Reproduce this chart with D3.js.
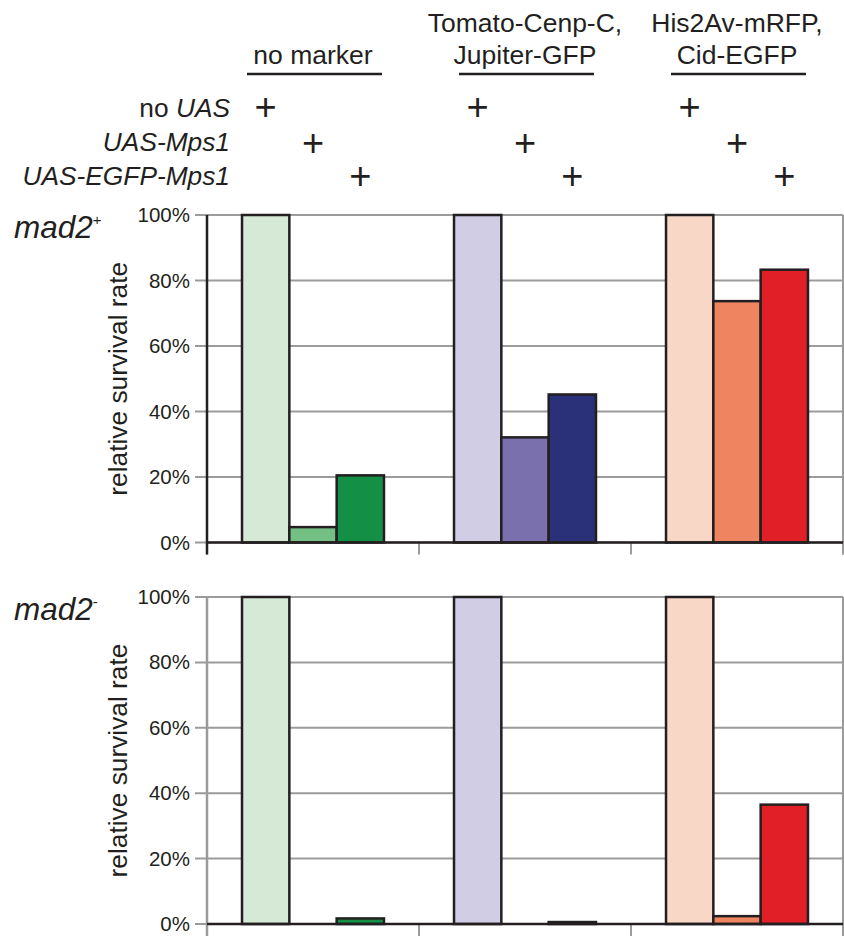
<!DOCTYPE html>
<html>
<head>
<meta charset="utf-8">
<script src="https://cdn.jsdelivr.net/npm/d3@7"></script>
<style>
  html, body { margin: 0; padding: 0; background: #fff; }
  svg { display: block; font-family: "Liberation Sans", Arial, sans-serif; }
</style>
</head>
<body>
<div id="chart"></div>
<script>
// marker lines (column groups)
const markerLines = [['no marker'], ['Tomato-Cenp-C,', 'Jupiter-GFP'], ['His2Av-mRFP,', 'Cid-EGFP']];
// transgene rows
const constructs = ['no UAS', 'UAS-Mps1', 'UAS-EGFP-Mps1'];
const tickValues = [0, 20, 40, 60, 80, 100];

// relative survival, % (per marker: no UAS, UAS-Mps1, UAS-EGFP-Mps1)
const mad2Plus = [[100, 4.7, 20.5], [100, 32.1, 45.2], [100, 73.7, 83.3]];
const mad2Minus = [[100, 0, 1.7], [100, 0, 0.6], [100, 2.4, 36.5]];

const barColors = [
  ['#d6e9d6', '#74bf83', '#138f46'],
  ['#d0cde4', '#7a70ae', '#2b3178'],
  ['#f8d7c7', '#ee8560', '#e11f26']
];

const width = 844, height = 936;
const plotLeft = 207, plotRight = 843;

const svg = d3.select('#chart')
  .append('svg')
  .attr('width', width)
  .attr('height', height);

svg.append('rect').attr('width', width).attr('height', height).attr('fill', '#fff');

// Group and bar scales
const x0 = d3.scaleBand()
  .domain(d3.range(markerLines.length))
  .range([plotLeft, plotRight]);

const x1 = d3.scaleBand()
  .domain(d3.range(constructs.length))
  .range([0, x0.bandwidth()])
  .paddingInner(0)
  .paddingOuter(0.74);

const barCenter = (g, i) => x0(g) + x1(i) + x1.bandwidth() / 2;

// Header: marker names with underline
markerLines.forEach((lines, g) => {
  const cx = x0(g) + x0.bandwidth() / 2;
  const t = svg.append('text')
    .attr('x', cx)
    .attr('text-anchor', 'middle')
    .attr('font-size', 26.5)
    .attr('fill', '#231f20');
  lines.forEach((line, k) => {
    t.append('tspan')
      .attr('x', cx)
      .attr('y', 64 - (lines.length - 1 - k) * 32)
      .text(line);
  });
  svg.append('line')
    .attr('x1', x0(g) + x1(0) + 5)
    .attr('x2', x0(g) + x1(2) + x1.bandwidth() - 2)
    .attr('y1', 74).attr('y2', 74)
    .attr('stroke', '#231f20')
    .attr('stroke-width', 2.5);
});

// Construct rows with + marks
const rowY = [117, 151, 185];
const plusY = [106.7, 142.7, 175.7];
constructs.forEach((name, i) => {
  const t = svg.append('text')
    .attr('x', 230)
    .attr('y', rowY[i])
    .attr('text-anchor', 'end')
    .attr('font-size', 26.3)
    .attr('fill', '#231f20');
  if (name.startsWith('no ')) {
    t.append('tspan').text('no ');
    t.append('tspan').attr('font-style', 'italic').text(name.slice(3));
  } else {
    t.attr('font-style', 'italic').text(name);
  }
  markerLines.forEach((_, g) => {
    svg.append('text')
      .attr('x', barCenter(g, i))
      .attr('y', plusY[i] + 12.8)
      .attr('text-anchor', 'middle')
      .attr('font-size', 38)
      .attr('fill', '#231f20')
      .text('+');
  });
});

function drawPanel(data, top, bottom, label, sup, axisColor) {
  const y = d3.scaleLinear().domain([0, 100]).range([bottom, top]);
  const g = svg.append('g');

  // gridlines
  g.selectAll('.grid')
    .data(tickValues)
    .join('line')
    .attr('x1', plotLeft - 12)
    .attr('x2', plotRight)
    .attr('y1', d => y(d)).attr('y2', d => y(d))
    .attr('stroke', '#9b9b9b')
    .attr('stroke-width', 2);

  // right border
  g.append('line')
    .attr('x1', plotRight).attr('x2', plotRight)
    .attr('y1', y(100)).attr('y2', y(0) + 12)
    .attr('stroke', '#9b9b9b').attr('stroke-width', 2);

  // x ticks
  g.selectAll('.xtick')
    .data(d3.range(markerLines.length + 1))
    .join('line')
    .attr('x1', d => plotLeft + d * x0.step())
    .attr('x2', d => plotLeft + d * x0.step())
    .attr('y1', y(0)).attr('y2', y(0) + 12)
    .attr('stroke', '#9b9b9b').attr('stroke-width', 2);

  // y axis labels
  const yAxis = d3.axisLeft(y)
    .tickValues(tickValues)
    .tickFormat(d => d + '%')
    .tickSize(0)
    .tickPadding(17);
  const ax = g.append('g')
    .attr('transform', `translate(${plotLeft},0)`)
    .call(yAxis);
  ax.select('.domain').remove();
  ax.selectAll('text')
    .attr('font-size', 20.5)
    .attr('fill', '#231f20')
    .attr('font-family', '"Liberation Sans", Arial, sans-serif');

  // bars
  data.forEach((vals, gi) => {
    g.selectAll(null)
      .data(vals.map((v, i) => ({ v, i })).filter(d => d.v > 0))
      .join('rect')
      .attr('x', d => x0(gi) + x1(d.i))
      .attr('width', x1.bandwidth())
      .attr('y', d => y(d.v))
      .attr('height', d => y(0) - y(d.v))
      .attr('fill', d => barColors[gi][d.i])
      .attr('stroke', '#231f20')
      .attr('stroke-width', 2.5);
  });

  // left axis and baseline
  g.append('line')
    .attr('x1', plotLeft).attr('x2', plotLeft)
    .attr('y1', y(100)).attr('y2', y(0) + 12)
    .attr('stroke', axisColor).attr('stroke-width', 2.5);
  g.append('line')
    .attr('x1', plotLeft).attr('x2', plotRight)
    .attr('y1', y(0)).attr('y2', y(0))
    .attr('stroke', '#231f20').attr('stroke-width', 2.5);

  // y title
  g.append('text')
    .attr('transform', `translate(127,${(top + bottom) / 2}) rotate(-90)`)
    .attr('text-anchor', 'middle')
    .attr('font-size', 26.3)
    .attr('fill', '#231f20')
    .text('relative survival rate');

  // genotype label
  const t = g.append('text')
    .attr('x', 14)
    .attr('y', top + 23)
    .attr('font-size', 31.5)
    .attr('font-style', 'italic')
    .attr('fill', '#231f20')
    .text(label);
  t.append('tspan')
    .attr('dy', -13)
    .attr('font-size', 15)
    .attr('font-style', 'normal')
    .text(sup);
}

drawPanel(mad2Plus, 215, 542.5, 'mad2', '+', '#231f20');
drawPanel(mad2Minus, 597, 924, 'mad2', '-', '#9b9b9b');
</script>
</body>
</html>
